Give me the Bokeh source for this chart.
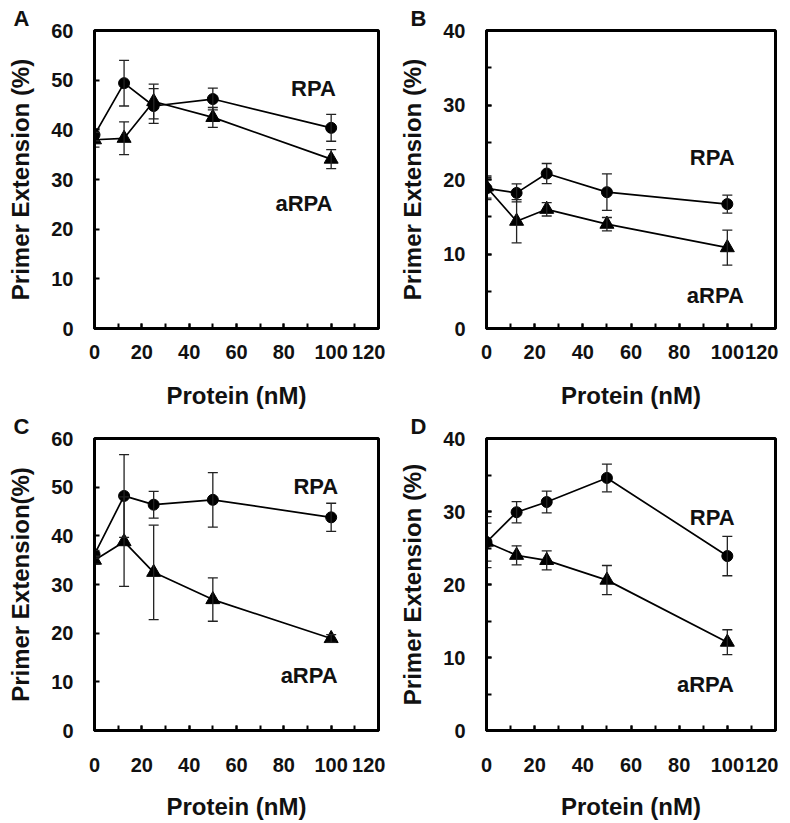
from bokeh.plotting import figure
from bokeh.layouts import gridplot
from bokeh.models import ColumnDataSource, Whisker, TeeHead, FixedTicker, Label, Range1d
from bokeh.embed import file_html
from bokeh.resources import INLINE

# ---------------- data ----------------
protein_nM = [0, 12.5, 25, 50, 100]
x_tick_labels = [0, 20, 40, 60, 80, 100, 120]

# Panel A
a_rpa = [39.0, 49.4, 44.8, 46.2, 40.4]
a_rpa_err = [1.2, 4.6, 3.5, 2.2, 2.7]
a_arpa = [38.0, 38.3, 45.7, 42.5, 34.1]
a_arpa_err = [1.5, 3.3, 3.5, 2.0, 1.9]

# Panel B
b_rpa = [18.8, 18.2, 20.8, 18.3, 16.7]
b_rpa_err = [1.5, 1.2, 1.35, 2.45, 1.2]
b_arpa = [19.0, 14.4, 16.0, 14.0, 10.85]
b_arpa_err = [1.5, 2.9, 0.9, 0.9, 2.35]

# Panel C
c_rpa = [36.2, 48.2, 46.4, 47.4, 43.8]
c_rpa_err = [0.8, 8.5, 2.75, 5.6, 2.9]
c_arpa = [35.0, 38.8, 32.5, 26.9, 18.9]
c_arpa_err = [0.8, 9.2, 9.7, 4.45, 0.8]

# Panel D
d_rpa = [25.8, 29.9, 31.3, 34.6, 23.9]
d_rpa_err = [2.6, 1.45, 1.5, 1.9, 2.7]
d_arpa = [25.8, 24.0, 23.3, 20.6, 12.1]
d_arpa_err = [3.5, 1.3, 1.3, 2.0, 1.7]

FONT = "Liberation Sans"
NBSP = "\u00a0"


def make_panel(letter, rpa, rpa_err, arpa, arpa_err, ymax, y_minor, ylabel,
               rpa_pos, arpa_pos, width, height, left, right, top, bottom,
               letter_offset, x_standoff, x_label_standoff):
    p = figure(width=width, height=height, output_backend="svg", toolbar_location=None,
               x_range=Range1d(0, 120), y_range=Range1d(0, ymax),
               min_border_left=left, min_border_right=right,
               min_border_top=top, min_border_bottom=bottom,
               background_fill_color="white", border_fill_color="white")
    p.grid.visible = False
    p.outline_line_color = "black"
    p.outline_line_width = 3

    # panel letter
    p.title.text = letter
    p.title.align = "left"
    p.title.offset = letter_offset
    p.title.standoff = 0
    p.title.text_font = FONT
    p.title.text_font_style = "bold"
    p.title.text_font_size = "22px"
    p.title.text_color = "#111111"

    p.xaxis.ticker = FixedTicker(ticks=x_tick_labels,
                                 minor_ticks=list(range(0, 121, 10)))
    # the last label sits a little to the left of its tick in the original
    p.xaxis.major_label_overrides = {x_tick_labels[-1]: str(x_tick_labels[-1]) + NBSP * 2}
    p.yaxis.ticker = FixedTicker(ticks=list(range(0, ymax + 1, 10)),
                                 minor_ticks=list(range(0, ymax + 1, 5)) if y_minor else [])
    for ax in (p.xaxis[0], p.yaxis[0]):
        ax.axis_line_width = 3
        ax.axis_line_color = "black"
        ax.major_tick_in = 5
        ax.major_tick_out = 0
        ax.minor_tick_in = 5
        ax.minor_tick_out = 0
        ax.major_tick_line_width = 2
        ax.minor_tick_line_width = 2
        ax.major_tick_line_color = "black"
        ax.minor_tick_line_color = "black"
        ax.major_label_text_font = FONT
        ax.major_label_text_font_style = "bold"
        ax.major_label_text_font_size = "20px"
        ax.major_label_text_color = "#111111"
        ax.axis_label_text_font = FONT
        ax.axis_label_text_font_style = "bold"
        ax.axis_label_text_font_size = "24px"
        ax.axis_label_text_color = "#111111"
    p.xaxis.axis_label = "Protein (nM)"
    p.yaxis.axis_label = ylabel
    p.xaxis.major_label_standoff = x_standoff
    p.xaxis.axis_label_standoff = x_label_standoff
    p.yaxis.major_label_standoff = 21
    p.yaxis.axis_label_standoff = 14

    src_r = ColumnDataSource(dict(x=protein_nM, y=rpa,
                                  upper=[v + e for v, e in zip(rpa, rpa_err)],
                                  lower=[v - e for v, e in zip(rpa, rpa_err)]))
    src_a = ColumnDataSource(dict(x=protein_nM, y=arpa,
                                  upper=[v + e for v, e in zip(arpa, arpa_err)],
                                  lower=[v - e for v, e in zip(arpa, arpa_err)]))

    p.line("x", "y", source=src_r, line_color="black", line_width=1.7)
    p.line("x", "y", source=src_a, line_color="black", line_width=1.7)
    for src in (src_r, src_a):
        w = Whisker(source=src, base="x", upper="upper", lower="lower",
                    line_color="#222222", line_width=1.3, level="glyph",
                    upper_head=TeeHead(size=10, line_color="#222222", line_width=1.3),
                    lower_head=TeeHead(size=10, line_color="#222222", line_width=1.3))
        p.add_layout(w)
    p.scatter("x", "y", source=src_r, marker="circle", size=11,
              fill_color="black", line_color="black")
    p.scatter("x", "y", source=src_a, marker="triangle", size=14,
              fill_color="black", line_color="black")

    for txt, (tx, ty) in (("RPA", rpa_pos), ("aRPA", arpa_pos)):
        p.add_layout(Label(x=tx, y=ty, text=txt, text_align="center", text_baseline="middle",
                           text_font=FONT, text_font_style="bold", text_font_size="22px",
                           text_color="#111111"))
    return p


pa = make_panel("A", a_rpa, a_rpa_err, a_arpa, a_arpa_err, 60, False, "Primer Extension (%)",
                (92.5, 48.4), (88.5, 25.2), 396, 411, 94, 18, 30, 83, -81, 12, 16)
pb = make_panel("B", b_rpa, b_rpa_err, b_arpa, b_arpa_err, 40, True, "Primer Extension (%)",
                (93.7, 23.0), (95.0, 4.4), 393, 411, 88, 14, 30, 83, -76, 12, 16)
pc = make_panel("C", c_rpa, c_rpa_err, c_arpa, c_arpa_err, 60, False, "Primer Extension(%)",
                (93.5, 50.1), (90.7, 11.3), 396, 411, 94, 18, 26, 89, -81, 23, 14)
pd_ = make_panel("D", d_rpa, d_rpa_err, d_arpa, d_arpa_err, 40, True, "Primer Extension (%)",
                 (93.7, 29.2), (90.9, 6.3), 393, 411, 88, 14, 26, 89, -76, 23, 14)

grid = gridplot([[pa, pb], [pc, pd_]], toolbar_location=None)

open("out.html", "w").write(file_html(grid, INLINE))
